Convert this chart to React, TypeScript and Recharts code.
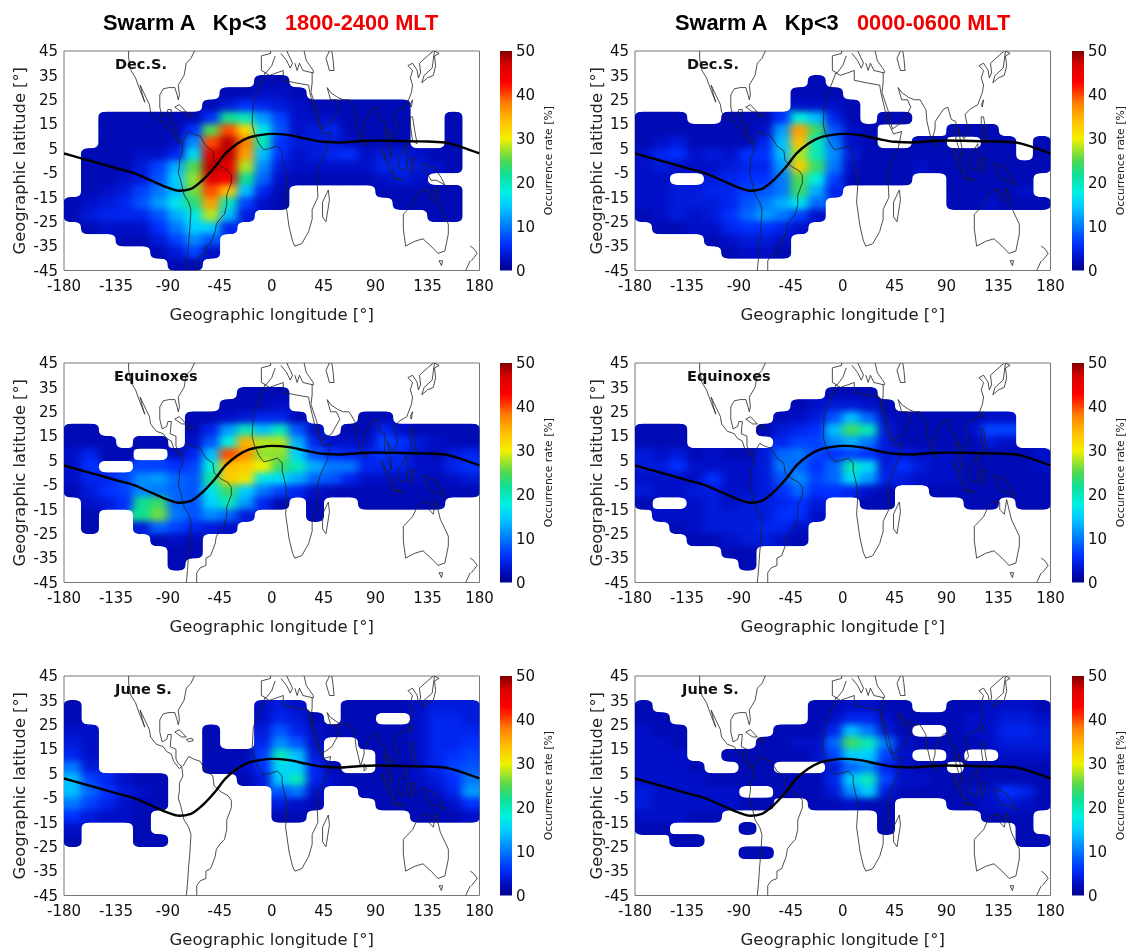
import React from "react";
import { ScatterChart, Scatter, XAxis, YAxis, CartesianGrid, BarChart, Bar } from "recharts";

const _ = null;
const lonTicks = [-180, -135, -90, -45, 0, 45, 90, 135, 180];
const latTicks = [-45, -35, -25, -15, -5, 5, 15, 25, 35, 45];
const rateTicks = [0, 10, 20, 30, 40, 50];
const cellLons = [-172.5, -157.5, -142.5, -127.5, -112.5, -97.5, -82.5, -67.5, -52.5, -37.5, -22.5, -7.5, 7.5, 22.5, 37.5, 52.5, 67.5, 82.5, 97.5, 112.5, 127.5, 142.5, 157.5, 172.5];
const cellLats = [32.5, 27.5, 22.5, 17.5, 12.5, 7.5, 2.5, -2.5, -7.5, -12.5, -17.5, -22.5, -27.5, -32.5, -37.5, -42.5];

const decDusk = [
  [_,_,_,_,_,_,_,_,_,_,_,2,2,_,_,_,_,_,_,_,_,_,_,_],
  [_,_,_,_,_,_,_,_,_,2,2,3,3,2,_,_,_,_,_,_,_,_,_,_],
  [_,_,_,_,_,_,_,_,2,4,6,5,4,3,2,2,2,2,2,2,_,_,_,_],
  [_,_,2,2,2,2,2,2,6,22,20,12,7,3,3,3,2,2,2,2,_,_,2,_],
  [_,_,2,2,2,2,2,6,25,40,32,17,8,3,4,5,2,2,2,2,_,_,2,_],
  [_,_,2,2,2,2,3,11,40,48,38,20,6,4,4,4,3,2,2,2,_,_,2,_],
  [_,2,2,2,3,3,5,16,46,48,36,14,6,3,4,5,6,3,4,4,3,2,2,_],
  [_,2,2,2,4,7,13,25,48,46,28,11,4,3,3,3,3,3,5,5,4,3,2,_],
  [_,2,2,3,4,8,15,27,46,44,22,9,3,2,2,2,2,2,3,4,3,_,_,_],
  [_,2,3,4,7,10,14,26,40,34,14,5,2,_,_,_,_,_,2,2,2,2,2,_],
  [2,3,4,5,8,12,17,23,36,20,7,3,2,_,_,_,_,_,_,2,2,2,2,_],
  [2,4,5,5,5,8,13,17,28,14,4,_,_,_,_,_,_,_,_,_,_,2,2,_],
  [_,2,3,3,3,6,10,15,15,5,_,_,_,_,_,_,_,_,_,_,_,_,_,_],
  [_,_,_,2,2,4,7,11,8,_,_,_,_,_,_,_,_,_,_,_,_,_,_,_],
  [_,_,_,_,_,2,4,7,3,_,_,_,_,_,_,_,_,_,_,_,_,_,_,_],
  [_,_,_,_,_,_,2,2,_,_,_,_,_,_,_,_,_,_,_,_,_,_,_,_],
];
const decDawn = [
  [_,_,_,_,_,_,_,_,_,_,2,_,_,_,_,_,_,_,_,_,_,_,_,_],
  [_,_,_,_,_,_,_,_,_,2,2,2,_,_,_,_,_,_,_,_,_,_,_,_],
  [_,_,_,_,_,_,_,_,_,3,3,3,2,_,_,_,_,_,_,_,_,_,_,_],
  [2,2,2,_,_,2,2,2,6,18,14,5,2,_,2,2,_,_,_,_,_,_,_,_],
  [2,2,2,2,2,2,2,3,12,36,24,8,3,2,_,_,_,_,2,2,2,_,_,_],
  [2,3,4,2,2,2,2,5,14,34,20,10,3,2,_,_,2,2,_,_,2,2,_,2],
  [3,5,6,3,4,3,6,6,14,28,20,11,4,2,2,2,2,2,2,2,2,2,_,2],
  [3,4,3,3,3,4,5,5,12,33,24,10,3,2,2,2,3,2,2,2,2,2,2,2],
  [3,3,_,_,4,5,6,6,10,25,18,7,2,2,2,2,_,_,2,2,2,2,2,_],
  [3,3,4,4,5,5,7,8,10,24,13,5,_,_,_,_,_,_,2,2,2,2,3,_],
  [3,3,4,4,4,5,8,10,13,17,9,_,_,_,_,_,_,_,2,2,3,2,2,2],
  [2,3,4,3,4,6,9,12,10,7,3,_,_,_,_,_,_,_,_,_,_,_,_,_],
  [_,2,2,3,3,5,6,6,5,3,_,_,_,_,_,_,_,_,_,_,_,_,_,_],
  [_,_,_,_,2,3,4,4,3,_,_,_,_,_,_,_,_,_,_,_,_,_,_,_],
  [_,_,_,_,_,2,3,3,2,_,_,_,_,_,_,_,_,_,_,_,_,_,_,_],
  [_,_,_,_,_,_,_,_,_,_,_,_,_,_,_,_,_,_,_,_,_,_,_,_],
];
const equinoxDusk = [
  [_,_,_,_,_,_,_,_,_,_,2,2,2,_,_,_,_,_,_,_,_,_,_,_],
  [_,_,_,_,_,_,_,_,_,2,2,2,3,_,_,_,_,_,_,_,_,_,_,_],
  [_,_,_,_,_,_,_,2,2,3,4,5,5,2,_,_,_,2,2,_,_,_,_,_],
  [2,2,_,_,_,_,_,2,5,12,20,14,20,8,3,_,2,2,5,3,2,2,2,2],
  [2,2,2,_,2,2,_,3,8,18,35,28,28,13,5,3,3,3,7,6,4,3,2,2],
  [3,5,2,2,_,_,3,5,14,40,37,27,27,15,8,6,5,5,6,5,3,2,4,5],
  [3,6,_,_,7,7,6,7,18,34,33,30,24,20,13,10,10,5,5,5,3,3,5,6],
  [3,5,5,7,11,12,9,8,21,33,31,17,16,13,9,8,5,3,3,3,3,2,3,4],
  [2,4,6,7,11,10,9,8,17,24,15,10,7,5,3,2,2,2,2,2,2,2,2,2],
  [_,3,4,6,22,24,9,8,15,20,12,5,2,_,2,_,_,2,2,2,2,2,_,_],
  [_,2,_,_,22,26,10,8,11,9,4,_,_,_,2,_,_,_,_,_,_,_,_,_],
  [_,2,_,_,4,9,7,5,4,3,_,_,_,_,_,_,_,_,_,_,_,_,_,_],
  [_,_,_,_,_,2,3,2,_,_,_,_,_,_,_,_,_,_,_,_,_,_,_,_],
  [_,_,_,_,_,_,2,2,_,_,_,_,_,_,_,_,_,_,_,_,_,_,_,_],
  [_,_,_,_,_,_,2,_,_,_,_,_,_,_,_,_,_,_,_,_,_,_,_,_],
  [_,_,_,_,_,_,_,_,_,_,_,_,_,_,_,_,_,_,_,_,_,_,_,_],
];
const equinoxDawn = [
  [_,_,_,_,_,_,_,_,_,_,_,2,2,2,_,_,_,_,_,_,_,_,_,_],
  [_,_,_,_,_,_,_,_,_,2,3,4,4,3,2,_,_,_,_,_,_,_,_,_],
  [_,_,_,_,_,_,_,_,2,3,4,8,14,9,3,2,2,2,2,2,3,3,_,_],
  [2,2,2,_,_,_,_,2,4,5,6,14,24,20,4,2,2,2,2,3,7,7,_,_],
  [2,2,2,_,_,_,_,_,5,7,7,11,13,10,4,2,2,2,2,2,4,3,_,_],
  [4,3,4,2,3,2,2,4,9,10,7,6,7,6,4,4,3,3,3,2,2,2,2,3],
  [4,4,6,3,3,3,3,4,10,9,6,9,20,16,4,6,4,3,3,2,2,2,2,3],
  [3,3,3,3,6,3,3,4,8,11,7,9,16,12,5,4,3,3,3,2,2,2,2,2],
  [4,3,3,4,4,3,3,4,6,9,6,6,5,3,2,_,_,2,2,2,2,2,2,2],
  [2,_,_,3,4,3,4,4,5,6,4,_,_,2,2,_,_,_,_,2,2,_,2,2],
  [_,3,3,3,4,4,4,4,6,6,3,_,_,_,_,_,_,_,_,_,_,_,_,_],
  [_,_,2,3,4,4,4,5,5,3,_,_,_,_,_,_,_,_,_,_,_,_,_,_],
  [_,_,_,2,2,3,4,4,3,2,_,_,_,_,_,_,_,_,_,_,_,_,_,_],
  [_,_,_,_,_,2,2,_,_,_,_,_,_,_,_,_,_,_,_,_,_,_,_,_],
  [_,_,_,_,_,_,2,_,_,_,_,_,_,_,_,_,_,_,_,_,_,_,_,_],
  [_,_,_,_,_,_,_,_,_,_,_,_,_,_,_,_,_,_,_,_,_,_,_,_],
];
const juneDusk = [
  [2,_,_,_,_,_,_,_,_,_,_,3,4,3,_,_,2,2,2,2,3,4,4,4],
  [2,_,_,_,_,_,_,_,_,_,_,3,5,4,2,_,2,2,_,_,3,5,5,4],
  [3,3,_,_,_,_,_,_,2,_,_,4,8,5,3,2,2,2,2,2,3,5,5,5],
  [4,3,_,_,_,_,_,_,2,_,_,5,11,8,3,_,_,2,2,2,3,5,5,6],
  [5,3,_,_,_,_,_,_,2,2,2,7,20,14,4,_,_,_,2,2,3,5,6,7],
  [10,4,_,_,_,_,_,_,2,2,3,6,16,15,5,2,_,_,2,2,3,5,7,8],
  [14,7,5,3,2,2,_,_,_,_,2,4,15,20,5,3,2,2,2,2,3,4,6,10],
  [14,9,6,4,3,2,_,_,_,_,_,_,8,10,3,_,_,2,2,2,2,3,5,12],
  [10,7,5,3,2,2,_,_,_,_,_,_,4,3,2,_,_,_,2,2,2,2,3,6],
  [6,4,3,3,2,_,_,_,_,_,_,_,2,2,_,_,_,_,_,_,2,2,2,3],
  [3,_,_,_,2,_,_,_,_,_,_,_,_,_,_,_,_,_,_,_,_,_,_,_],
  [2,_,_,_,2,2,_,_,_,_,_,_,_,_,_,_,_,_,_,_,_,_,_,_],
  [_,_,_,_,_,_,_,_,_,_,_,_,_,_,_,_,_,_,_,_,_,_,_,_],
  [_,_,_,_,_,_,_,_,_,_,_,_,_,_,_,_,_,_,_,_,_,_,_,_],
  [_,_,_,_,_,_,_,_,_,_,_,_,_,_,_,_,_,_,_,_,_,_,_,_],
  [_,_,_,_,_,_,_,_,_,_,_,_,_,_,_,_,_,_,_,_,_,_,_,_],
];
const juneDawn = [
  [2,_,_,_,_,_,_,_,_,_,2,2,3,3,2,2,_,_,2,2,3,3,3,2],
  [2,2,_,_,_,_,_,_,_,_,2,3,5,5,3,2,2,2,2,3,3,4,4,3],
  [3,2,2,_,_,_,_,_,2,2,2,5,14,10,4,2,_,_,2,3,3,5,5,4],
  [3,3,2,_,_,_,_,2,2,3,3,9,24,20,10,3,2,2,2,2,3,4,4,4],
  [3,3,3,_,_,2,2,2,2,2,3,7,15,15,7,3,_,_,2,_,_,3,3,3],
  [3,3,3,2,_,_,2,2,_,_,_,4,9,11,5,3,2,2,_,2,2,2,2,2],
  [3,3,3,3,2,2,2,2,2,2,2,5,15,20,7,3,3,2,2,2,2,2,2,2],
  [4,3,3,3,3,3,_,_,2,2,2,4,11,15,4,2,2,2,2,3,3,6,5,2],
  [4,3,3,3,3,3,2,2,_,_,2,2,3,2,2,_,_,_,2,2,3,4,3,2],
  [3,3,3,2,2,_,_,_,_,_,_,_,_,_,2,_,_,_,_,_,2,2,2,_],
  [2,2,_,_,_,_,2,_,_,_,_,_,_,_,2,_,_,_,_,_,_,_,2,_],
  [_,_,2,2,_,_,_,_,_,_,_,_,_,_,_,_,_,_,_,_,_,_,2,2],
  [_,_,_,_,_,_,2,2,_,_,_,_,_,_,_,_,_,_,_,_,_,_,_,_],
  [_,_,_,_,_,_,_,_,_,_,_,_,_,_,_,_,_,_,_,_,_,_,_,_],
  [_,_,_,_,_,_,_,_,_,_,_,_,_,_,_,_,_,_,_,_,_,_,_,_],
  [_,_,_,_,_,_,_,_,_,_,_,_,_,_,_,_,_,_,_,_,_,_,_,_],
];

const magneticEquator = [[-180,3],[-165,1],[-150,-1],[-135,-3],[-120,-5],[-105,-8],[-90,-11],[-80,-12.3],[-70,-11.5],[-60,-8],[-50,-3],[-40,3],[-30,7],[-20,9.5],[-10,10.5],[0,11],[15,10.5],[30,9],[45,7.8],[60,7.5],[75,8],[90,8.3],[105,8.2],[120,8],[135,7.9],[150,7.5],[165,5.5],[180,3]];

const coasts = [
  [[-124,45],[-124,42],[-122,37],[-118,34],[-115,30],[-110,24],[-112,27],[-114,31],[-110,27],[-106,23],[-105,20],[-100,17],[-94,16],[-91,14],[-87,13],[-85,10],[-80,7],[-78,8],[-81,9],[-83,11],[-83,15],[-88,16],[-87,21],[-90,21],[-91,19],[-95,18],[-97,22],[-97,27],[-94,29.5],[-89,30],[-84,30],[-82,27],[-81,25],[-80,27],[-81,31],[-76,35],[-74,40],[-70,42],[-67,45]],
  [[-84,22],[-80,23],[-74,20],[-78,20],[-84,22]],
  [[-74,19],[-69,19.5],[-68,18.5],[-72,18],[-74,19]],
  [[-77,8],[-72,12],[-68,11],[-62,10],[-57,6],[-51,4],[-50,0],[-44,-2.5],[-38,-4],[-35,-6],[-35,-9],[-39,-14],[-39,-18],[-41,-22],[-45,-24],[-48,-26],[-49,-29],[-53,-34],[-57,-35],[-57,-38],[-62,-39],[-65,-41],[-65,-45]],
  [[-74,-45],[-73,-40],[-72,-33],[-71,-28],[-70,-20],[-72,-17],[-76,-14],[-79,-8],[-81,-5],[-80,-2],[-80,1],[-77,4],[-78,8]],
  [[-6,36],[-10,31],[-16,24],[-17,15],[-15,11],[-11,7],[-7,4.5],[-2,5],[5,6],[9,4],[9,1],[12,-5],[13,-10],[12,-17],[15,-27],[18,-33],[20,-35],[26,-34],[32,-29],[35,-24],[35,-20],[40,-15],[39,-6],[42,-1],[48,5],[51,12],[44,11],[39,16],[35,24],[33,28],[32,31],[20,32],[10,33],[10,37],[-2,35],[-6,36]],
  [[49,-12],[50,-16],[47,-25],[44,-23],[44,-17],[49,-12]],
  [[-9,37],[-9,43],[-1,44],[-1,45]],
  [[3,43],[0,39],[-5,36],[-9,37]],
  [[8,44],[13,41],[16,38],[18,40],[13,45]],
  [[20,40],[22,37],[24,40],[27,37],[36,36],[36,37],[30,41],[28,45]],
  [[35,36],[35,32],[34,28],[39,21],[43,13],[52,16],[59,22],[56,25],[51,25],[48,30],[51,28],[57,26],[62,25],[67,25],[72,21],[73,16],[77,8],[80,13],[80,16],[87,21],[91,22],[94,17],[98,16],[98,9],[100,6],[104,1],[103,6],[100,13],[105,9],[109,12],[106,19],[110,21],[117,23],[121,28],[122,31],[120,34],[122,37],[118,39],[122,40],[126,37],[127,34],[129,36],[128,40],[135,43],[140,45]],
  [[80,9],[82,7],[80,6],[80,9]],
  [[95,5],[104,-2],[106,-6],[101,-3],[95,5]],
  [[105,-6.5],[114,-8],[106,-7.5],[105,-6.5]],
  [[109,1],[117,7],[118,1],[116,-4],[110,-3],[109,1]],
  [[120,1],[124,1],[121,-5],[120,1]],
  [[131,-1],[141,-3],[147,-7],[150,-10],[143,-8],[138,-8],[132,-3],[131,-1]],
  [[120,18],[122,18],[124,12],[126,7],[122,8],[120,15],[120,18]],
  [[130,32],[135,34],[140,35],[142,39],[141,43],[145,44],[141,45],[139,38],[132,35],[130,32]],
  [[120,23],[122,25],[121,22],[120,23]],
  [[114,-22],[122,-18],[126,-14],[130,-12],[136,-12],[136,-15],[140,-17],[142,-11],[146,-19],[153,-26],[153,-30],[150,-37],[144,-38],[138,-35],[131,-32],[124,-33],[116,-35],[114,-28],[114,-22]],
  [[145,-41],[148,-41],[147,-43],[145,-41]],
  [[173,-41],[178,-38],[175,-36],[172,-35]],
  [[172,-41],[168,-45]],
  [[50,45],[47,42],[50,37],[54,37],[53,42],[52,45]],
];

const jetStops: [number, string][] = [
  [0, "#000090"], [3, "#0010c8"], [6, "#0030ff"], [10, "#0078ff"], [15, "#00d0ff"], [18, "#00f0e0"],
  [22, "#10e090"], [25, "#50d850"], [30, "#f0f000"], [34, "#ffc000"], [38, "#ff8000"], [41, "#ff3000"], [43, "#ff0000"], [47, "#d80000"], [50, "#800000"],
];

function hex(c: string) {
  return [1, 3, 5].map((i) => parseInt(c.slice(i, i + 2), 16));
}
function jet(v: number) {
  for (let i = 1; i < jetStops.length; i++) {
    if (v <= jetStops[i][0]) {
      const [a, ca] = jetStops[i - 1];
      const [b, cb] = jetStops[i];
      const t = (v - a) / (b - a);
      const x = hex(ca), y = hex(cb);
      return `rgb(${x.map((q, k) => Math.round(q + (y[k] - q) * t)).join(",")})`;
    }
  }
  return jetStops[jetStops.length - 1][1];
}

const PW = 415.5;
const PH = 219.5;
const colX = [{ plot: 63.5, bar: 500, ylab: 19 }, { plot: 635, bar: 1072, ylab: 25 }];
const rowY = [50.5, 363, 675.5];
const seasons = ["Dec.S.", "Equinoxes", "June S."];
const labelX = [[115, 687], [114, 687], [115, 682]];
const grids = [[decDusk, decDawn], [equinoxDusk, equinoxDawn], [juneDusk, juneDawn]];
const titles = [["1800-2400 MLT", 103], ["0000-0600 MLT", 675]] as const;

const font = "'DejaVu Sans', sans-serif";

function tableOf(grid: (number | null)[][]) {
  const out: { lon: number; lat: number; rate: number }[] = [];
  grid.forEach((row, r) =>
    row.forEach((v, c) => {
      if (v !== null) out.push({ lon: cellLons[c], lat: cellLats[r], rate: v });
    })
  );
  return out;
}
const pts = (line: number[][]) => line.map(([lon, lat]) => ({ lon, lat }));

const HeatCell = (props: any) => {
  const w = PW / 24 + 0.6;
  const h = PH / 18 + 0.6;
  return <rect x={props.cx - w / 2} y={props.cy - h / 2} width={w} height={h} fill={jet(props.payload.rate)} />;
};
const NoDot = () => null;

function Panel({ x, y, grid, ylab }: { x: number; y: number; grid: (number | null)[][]; ylab: number }) {
  const tick = { fontSize: 15, fill: "#111", fontFamily: font };
  return (
    <div style={{ position: "absolute", left: x - 64, top: y - 20 }}>
      <ScatterChart width={PW + 84} height={PH + 80} margin={{ top: 20, right: 20, left: 0, bottom: 0 }}>
        <CartesianGrid horizontalValues={[-45, 45]} verticalValues={[-180, 180]} stroke="#777" />
        <XAxis type="number" dataKey="lon" domain={[-180, 180]} ticks={lonTicks} interval={0} allowDataOverflow height={60}
          tickLine={false} axisLine={false} tick={tick} tickMargin={4}
          label={{ value: "Geographic longitude [°]", position: "insideBottom", offset: 11, style: { fontSize: 16.5, fill: "#222", fontFamily: font } }} />
        <YAxis type="number" dataKey="lat" domain={[-45, 45]} ticks={latTicks} interval={0} allowDataOverflow width={64}
          tickLine={false} axisLine={false} tick={tick} tickMargin={0}
          label={{ value: "Geographic latitude [°]", angle: -90, position: "insideLeft", textAnchor: "middle", offset: ylab, style: { fontSize: 16.3, fill: "#222", fontFamily: font } }} />
        <Scatter data={tableOf(grid)} className="heat" shape={HeatCell} isAnimationActive={false} />
        {coasts.map((c, i) => (
          <Scatter key={i} data={pts(c)} shape={NoDot} line={{ stroke: "#222", strokeWidth: 0.8 }} isAnimationActive={false} />
        ))}
        <Scatter data={pts(magneticEquator)} shape={NoDot} line={{ stroke: "#000", strokeWidth: 2.4 }} lineJointType="monotoneX" isAnimationActive={false} />
      </ScatterChart>
    </div>
  );
}

const barData = [{ name: "rate", top: 50 }];
function ColorBar({ x, y }: { x: number; y: number }) {
  return (
    <div style={{ position: "absolute", left: x, top: y - 10 }}>
      <BarChart width={72} height={PH + 20} data={barData} barCategoryGap={0} margin={{ top: 10, right: 0, left: 0, bottom: 10 }}>
        <XAxis dataKey="name" hide />
        <YAxis orientation="right" domain={[0, 50]} ticks={rateTicks} interval={0} width={60} tickLine={false} axisLine={false}
          tick={{ fontSize: 15, fill: "#111", fontFamily: font }} tickSize={4} tickMargin={0}
          label={{ value: "Occurrence rate [%]", angle: -90, position: "insideLeft", textAnchor: "middle", offset: 36, style: { fontSize: 10.8, fill: "#222", fontFamily: font } }} />
        <Bar dataKey="top" fill="url(#jetBar)" isAnimationActive={false} />
      </BarChart>
    </div>
  );
}

export default function App() {
  return (
    <div style={{ position: "absolute", left: 0, top: 0, width: 1131, height: 949, background: "#fff", overflow: "hidden", filter: "blur(0.4px)" }}>
      <style>{`.heat { filter: url(#smooth); }`}</style>
      <svg width={1} height={1} style={{ position: "absolute", left: 0, top: 0 }}>
        <defs>
          <linearGradient id="jetBar" x1="0" y1="1" x2="0" y2="0">
            {jetStops.map(([v, c]) => (
              <stop key={v} offset={v / 50} stopColor={c} />
            ))}
          </linearGradient>
          <filter id="smooth" colorInterpolationFilters="sRGB" x="-5%" y="-5%" width="110%" height="110%">
            <feGaussianBlur in="SourceGraphic" stdDeviation="4.5 3" result="soft" />
            <feComponentTransfer in="soft" result="opaque">
              <feFuncA type="linear" slope="100" intercept="0" />
            </feComponentTransfer>
            <feGaussianBlur in="SourceAlpha" stdDeviation="3.8 2.6" result="edge" />
            <feComponentTransfer in="edge" result="mask">
              <feFuncA type="linear" slope="10" intercept="-4.5" />
            </feComponentTransfer>
            <feComposite in="opaque" in2="mask" operator="in" />
          </filter>
        </defs>
      </svg>
      {titles.map(([mlt, left], i) => (
        <div key={i} style={{ position: "absolute", left, top: 10, fontFamily: "'Liberation Sans', sans-serif", fontWeight: 700, fontSize: 21.8, whiteSpace: "pre", color: "#000" }}>
          {"Swarm A   Kp<3   "}
          <span style={{ color: "#f00000" }}>{mlt}</span>
        </div>
      ))}
      {rowY.map((y, r) =>
        colX.map((c, k) => (
          <React.Fragment key={`${r}-${k}`}>
            <Panel x={c.plot} y={y} grid={grids[r][k]} ylab={c.ylab} />
            <ColorBar x={c.bar} y={y} />
            <div style={{ position: "absolute", left: labelX[r][k], top: y + 5, fontFamily: font, fontWeight: 700, fontSize: 14.5, color: "#111" }}>{seasons[r]}</div>
          </React.Fragment>
        ))
      )}
    </div>
  );
}
